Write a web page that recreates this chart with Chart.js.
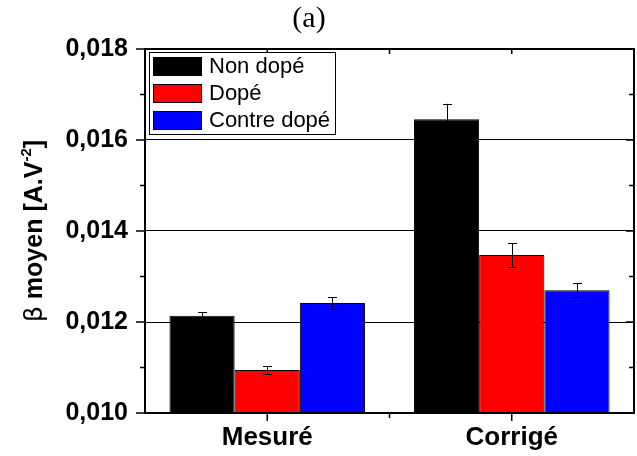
<!DOCTYPE html>
<html>
<head>
<meta charset="utf-8">
<script src="https://cdn.jsdelivr.net/npm/chart.js@4/dist/chart.umd.min.js"></script>
<style>
html,body{margin:0;padding:0;background:#fff;}
#wrap{width:637px;height:456px;position:relative;}
</style>
</head>
<body>
<div id="wrap"><canvas id="c" width="637" height="456"></canvas></div>
<script>
// ---- data ----
const categories = ['Mesuré', 'Corrigé'];
const seriesNames = ['Non dopé', 'Dopé', 'Contre dopé'];
const nonDope = [0.01214, 0.016455];
const nonDopeErr = [0.00007, 0.00034];
const dope = [0.010945, 0.013473];
const dopeErr = [0.000077, 0.000256];
const contreDope = [0.01242, 0.012697];
const contreDopeErr = [0.000125, 0.00015];
const yTickValues = [0.010, 0.012, 0.014, 0.016, 0.018];
const yTickLabels = ['0,010', '0,012', '0,014', '0,016', '0,018'];
const yMinorStep = 0.001;
const titleText = '(a)';
const yTitleParts = ['β', ' moyen [A.V', '-2', ']'];

const seriesColors = ['#000000', '#ff0000', '#0000ff'];

function isMajor(v) {
  return yTickValues.some(t => Math.abs(t - v) < 1e-9);
}

const decorPlugin = {
  id: 'decor',
  afterDatasetsDraw(chart) {
    const ctx = chart.ctx;
    const ca = chart.chartArea;
    const xs = chart.scales.x, ys = chart.scales.y;
    // error bars
    chart.data.datasets.forEach((ds, di) => {
      const meta = chart.getDatasetMeta(di);
      meta.data.forEach((bar, i) => {
        const v = ds.data[i], e = ds.errors[i];
        const yTop = ys.getPixelForValue(v + e);
        const yBot = ys.getPixelForValue(v - e);
        const x = Math.round(bar.x) + 0.5;
        ctx.save();
        ctx.strokeStyle = '#000';
        ctx.lineWidth = 1;
        ctx.beginPath();
        ctx.moveTo(x, yTop); ctx.lineTo(x, yBot);
        ctx.moveTo(x - 4.5, Math.round(yTop) + 0.5); ctx.lineTo(x + 4.5, Math.round(yTop) + 0.5);
        ctx.moveTo(x - 4.5, Math.round(yBot) + 0.5); ctx.lineTo(x + 4.5, Math.round(yBot) + 0.5);
        ctx.stroke();
        ctx.restore();
      });
    });
    // frame
    ctx.save();
    ctx.strokeStyle = '#000';
    ctx.lineWidth = 2;
    ctx.strokeRect(ca.left, ca.top, ca.right - ca.left, ca.bottom - ca.top);
    // y ticks
    ctx.lineWidth = 1.5;
    ctx.beginPath();
    for (let v = ys.min; v <= ys.max + 1e-9; v += yMinorStep) {
      const y = ys.getPixelForValue(v);
      const maj = isMajor(v);
      const outL = maj ? 9 : 5;
      const inR = maj ? 8 : 5;
      ctx.moveTo(ca.left - outL, y); ctx.lineTo(ca.left, y);
      ctx.moveTo(ca.right, y); ctx.lineTo(ca.right - inR, y);
    }
    // x ticks: category centers and boundaries
    for (let i = 0; i < categories.length; i++) {
      const x = xs.getPixelForValue(i);
      ctx.moveTo(x, ca.bottom); ctx.lineTo(x, ca.bottom + 8);
      ctx.moveTo(x, ca.top); ctx.lineTo(x, ca.top + 5);
      if (i < categories.length - 1) {
        const xb = (xs.getPixelForValue(i) + xs.getPixelForValue(i + 1)) / 2;
        ctx.moveTo(xb, ca.bottom); ctx.lineTo(xb, ca.bottom + 5);
        ctx.moveTo(xb, ca.top); ctx.lineTo(xb, ca.top + 5);
      }
    }
    ctx.stroke();
    ctx.restore();

    // legend
    ctx.save();
    const lx = ca.left + 4, ly = ca.top + 3, lw = 186, lh = 82;
    ctx.fillStyle = '#fff';
    ctx.fillRect(lx, ly, lw, lh);
    ctx.strokeStyle = '#000';
    ctx.lineWidth = 1;
    ctx.strokeRect(lx + 0.5, ly + 0.5, lw, lh);
    ctx.font = '22px "Liberation Sans", Arial, sans-serif';
    ctx.textBaseline = 'middle';
    ctx.textAlign = 'left';
    chart.data.datasets.forEach((ds, i) => {
      const ry = ly + 5 + i * 27;
      ctx.fillStyle = ds.backgroundColor;
      ctx.fillRect(lx + 4, ry, 49, 19);
      ctx.strokeStyle = '#000';
      ctx.strokeRect(lx + 4.5, ry + 0.5, 48, 18);
      ctx.fillStyle = '#000';
      ctx.fillText(ds.label, lx + 60, ry + 10);
    });
    ctx.restore();

    // title
    ctx.save();
    ctx.fillStyle = '#000';
    ctx.font = '30px "Liberation Serif", "DejaVu Serif", serif';
    ctx.textAlign = 'center';
    ctx.textBaseline = 'alphabetic';
    ctx.fillText(titleText, 309, 27);
    ctx.restore();

    // y axis title (rotated)
    ctx.save();
    const fonts = [
      '25px "DejaVu Sans", sans-serif',
      'bold 25px "Liberation Sans", Arial, sans-serif',
      'bold 15px "Liberation Sans", Arial, sans-serif',
      'bold 25px "Liberation Sans", Arial, sans-serif'
    ];
    const rise = [0, 0, -11, 0];
    let widths = yTitleParts.map((t, i) => { ctx.font = fonts[i]; return ctx.measureText(t).width; });
    const total = widths.reduce((a, b) => a + b, 0);
    const cy = (ca.top + ca.bottom) / 2;
    ctx.translate(42, cy);
    ctx.rotate(-Math.PI / 2);
    ctx.fillStyle = '#000';
    ctx.textBaseline = 'alphabetic';
    ctx.textAlign = 'left';
    let px = -total / 2;
    yTitleParts.forEach((t, i) => {
      ctx.font = fonts[i];
      ctx.fillText(t, px, rise[i]);
      px += widths[i];
    });
    ctx.restore();
  }
};

const chart = new Chart(document.getElementById('c'), {
  type: 'bar',
  data: {
    labels: categories,
    datasets: [
      { label: seriesNames[0], data: nonDope, errors: nonDopeErr, backgroundColor: seriesColors[0], borderColor: '#000', borderWidth: 1 },
      { label: seriesNames[1], data: dope, errors: dopeErr, backgroundColor: seriesColors[1], borderColor: '#000', borderWidth: 1 },
      { label: seriesNames[2], data: contreDope, errors: contreDopeErr, backgroundColor: seriesColors[2], borderColor: '#000', borderWidth: 1 }
    ]
  },
  options: {
    responsive: false,
    animation: false,
    devicePixelRatio: 1,
    layout: { padding: { left: 0, top: 49, right: 3, bottom: 0 } },
    datasets: { bar: { categoryPercentage: 0.8, barPercentage: 1.0 } },
    plugins: { legend: { display: false }, title: { display: false }, tooltip: { enabled: false } },
    scales: {
      x: {
        type: 'category',
        offset: true,
        afterFit(s) { s.height = 43; },
        grid: { drawOnChartArea: false, color: 'transparent', tickColor: 'transparent', tickLength: 8 },
        border: { display: false },
        ticks: { color: '#000', padding: 1, font: { family: '"Liberation Sans", Arial, sans-serif', size: 26, weight: 'bold' } }
      },
      y: {
        min: yTickValues[0],
        max: yTickValues[yTickValues.length - 1],
        afterFit(s) { s.width = 145; },
        afterBuildTicks(s) {
          const t = [];
          for (let v = yTickValues[0]; v <= yTickValues[yTickValues.length - 1] + 1e-9; v += yMinorStep) t.push({ value: v });
          s.ticks = t;
        },
        grid: {
          color: (c) => {
            const v = c.tick ? c.tick.value : NaN;
            return (isMajor(v) && Math.abs(v - yTickValues[0]) > 1e-9 && Math.abs(v - yTickValues[yTickValues.length - 1]) > 1e-9) ? '#000' : 'transparent';
          },
          lineWidth: 1,
          tickColor: 'transparent',
          tickLength: 9
        },
        border: { display: false },
        ticks: {
          color: '#000',
          padding: 8,
          autoSkip: false,
          font: { family: '"Liberation Sans", Arial, sans-serif', size: 25, weight: 'bold' },
          callback: (v) => {
            const idx = yTickValues.findIndex(t => Math.abs(t - v) < 1e-9);
            return idx >= 0 ? yTickLabels[idx] : '';
          }
        }
      }
    }
  },
  plugins: [decorPlugin]
});
</script>
</body>
</html>
